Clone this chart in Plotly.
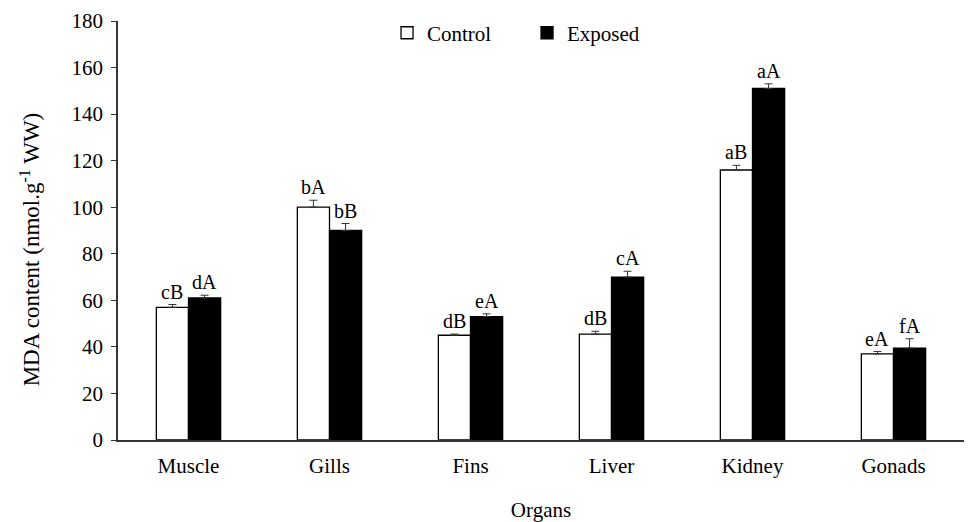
import plotly.graph_objects as go

organs = ["Muscle", "Gills", "Fins", "Liver", "Kidney", "Gonads"]
control = [57, 100, 45, 45.5, 116, 37]
exposed = [61, 90, 53, 70, 151, 39.5]
control_err = [1.2, 3, 0.5, 1.2, 2, 1]
exposed_err = [1.2, 3, 1.2, 2.5, 2, 4]
control_letters = ["cB", "bA", "dB", "dB", "aB", "eA"]
exposed_letters = ["dA", "bB", "eA", "cA", "aA", "fA"]

W = 0.228  # bar width in category units
xs = list(range(len(organs)))
xc = [x - W / 2 for x in xs]
xe = [x + W / 2 for x in xs]

FONT = "Liberation Serif, Times New Roman, serif"
FS = 21

fig = go.Figure()
fig.add_trace(go.Bar(
    x=xc, y=control, width=W, name="Control",
    marker=dict(color="white", line=dict(color="black", width=1.3)),
    error_y=dict(type="data", array=control_err, arrayminus=[0] * len(organs),
                 color="#333", thickness=1, width=4),
))
fig.add_trace(go.Bar(
    x=xe, y=exposed, width=W, name="Exposed",
    marker=dict(color="black", line=dict(color="black", width=1.3)),
    error_y=dict(type="data", array=exposed_err, arrayminus=[0] * len(organs),
                 color="#333", thickness=1, width=4),
))

# significance letters above each error bar
for x, v, e, t in zip(xc + xe, control + exposed, control_err + exposed_err,
                      control_letters + exposed_letters):
    fig.add_annotation(x=x, y=v + e, text=t, showarrow=False, yanchor="bottom",
                       yshift=0, font=dict(family=FONT, size=20, color="black"))

# y-axis title, placed as a rotated annotation
fig.add_annotation(xref="paper", yref="paper", x=-0.104, y=0.455,
                   text="MDA content (nmol.g<sup>-1</sup> WW)", textangle=-90,
                   showarrow=False, xanchor="center", yanchor="middle",
                   font=dict(family=FONT, size=23, color="black"))

fig.update_layout(
    width=973, height=522,
    margin=dict(l=118, r=9, t=21, b=82, autoexpand=False),
    plot_bgcolor="white", paper_bgcolor="white",
    font=dict(family=FONT, size=FS, color="black"),
    barmode="overlay",
    showlegend=True,
    legend=dict(orientation="h", x=0.318, y=1.02, yanchor="top", xanchor="left",
                font=dict(family=FONT, size=FS), bgcolor="rgba(0,0,0,0)",
                entrywidth=95, entrywidthmode="pixels", traceorder="normal"),
    xaxis=dict(
        range=[-0.5, 5.5], tickvals=xs, ticktext=organs, showgrid=False,
        showline=True, linecolor="#333", linewidth=1.5, ticks="",
        tickfont=dict(family=FONT, size=FS), zeroline=False, automargin=False,
        ticklabelstandoff=6,
        title=dict(text="Organs", font=dict(family=FONT, size=FS), standoff=36),
    ),
    yaxis=dict(
        range=[0, 180], dtick=20, showgrid=False, showline=True,
        linecolor="#333", linewidth=1.5, ticks="outside", ticklen=5,
        tickcolor="#333", tickfont=dict(family=FONT, size=FS), zeroline=False,
        automargin=False, ticklabelstandoff=4,
    ),
)

fig.write_html("out.html")
